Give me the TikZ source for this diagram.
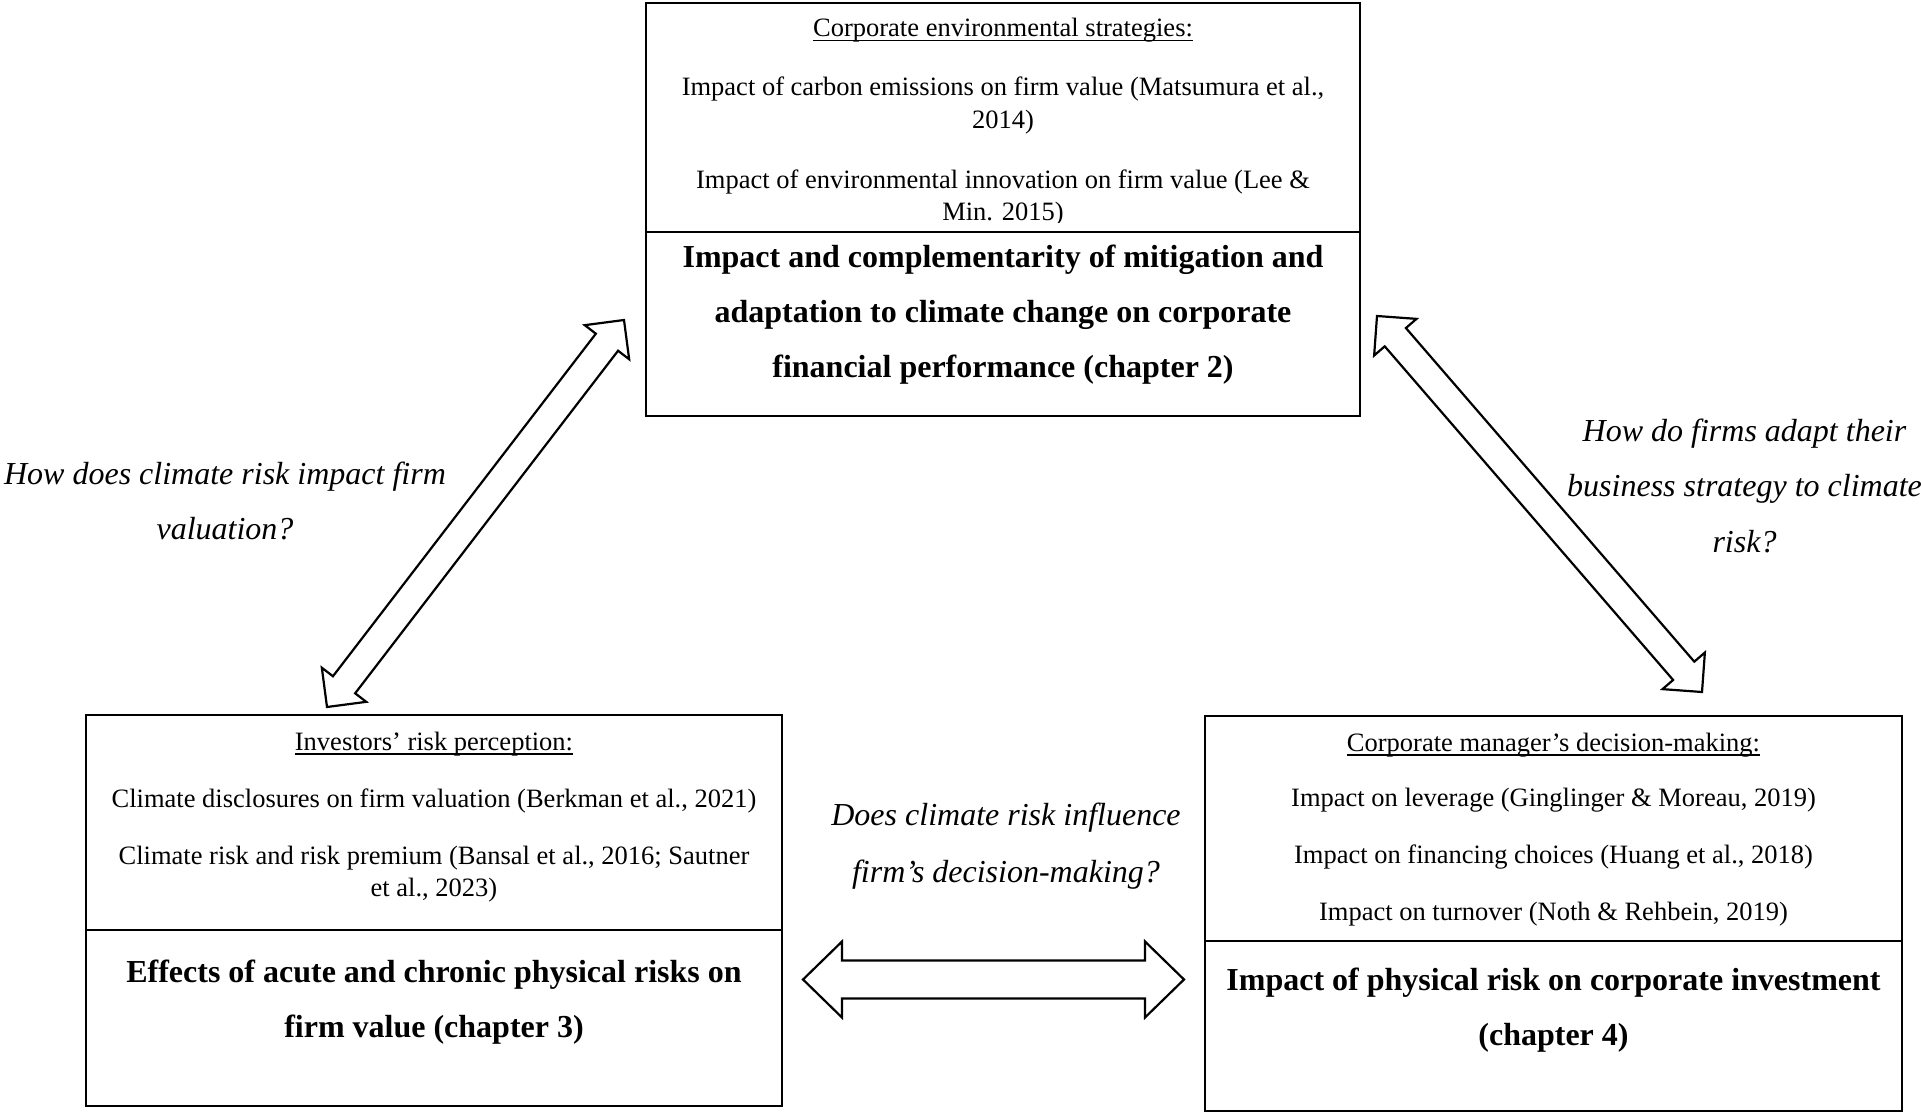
\documentclass[tikz,border=0pt]{standalone}
\usepackage{fontspec}
\setmainfont{Liberation Serif}
\usetikzlibrary{calc}
\newcommand\myul[1]{\setbox0\hbox{#1}\rlap{\rule[-4.5pt]{\wd0}{1.6pt}}\box0}
% #1 from, #2 to, #3 shaft half width, #4 head half width, #5 head length
\newcommand\blockarrow[5]{%
  \draw[blockarr] (#1)
   -- ($ ($(#1)!#5!(#2)$)!#4!90:(#2) $)
   -- ($ ($(#1)!#5!(#2)$)!#3!90:(#2) $)
   -- ($ ($(#2)!#5!(#1)$)!#3!90:(#2) $)
   -- ($ ($(#2)!#5!(#1)$)!#4!90:(#2) $)
   -- (#2)
   -- ($ ($(#2)!#5!(#1)$)!#4!-90:(#2) $)
   -- ($ ($(#2)!#5!(#1)$)!#3!-90:(#2) $)
   -- ($ ($(#1)!#5!(#2)$)!#3!-90:(#2) $)
   -- ($ ($(#1)!#5!(#2)$)!#4!-90:(#2) $)
   -- cycle;}
\begin{document}
\begin{tikzpicture}[x=1pt,y=-1pt,
  box/.style={draw, line width=2.5pt, rectangle, inner sep=0pt},
  blockarr/.style={draw, line width=2.2pt, fill=white, line join=miter},
  body/.style={anchor=base, align=center, inner sep=0pt, font=\fontsize{26.5}{32.5}\selectfont},
  boldtxt/.style={anchor=base, align=center, inner sep=0pt, font=\fontsize{32}{55}\selectfont\bfseries},
  quest/.style={anchor=base, align=center, inner sep=0pt, font=\fontsize{32}{55}\selectfont\itshape}]
\useasboundingbox (0,0) rectangle (1921,1113);

% boxes
\node[box, minimum width=714pt, minimum height=229pt] (envbox) at (1003,117.5) {};
\node[box, minimum width=714pt, minimum height=184pt] (ch2box) at (1003,324) {};
\node[box, minimum width=696pt, minimum height=215pt] (invbox) at (434,822.5) {};
\node[box, minimum width=696pt, minimum height=176pt] (ch3box) at (434,1018) {};
\node[box, minimum width=697pt, minimum height=225pt] (mgrbox) at (1553.5,828.5) {};
\node[box, minimum width=697pt, minimum height=170pt] (ch4box) at (1553.5,1026) {};

% top box texts (anchor = baseline of the last line)
\node[body] (envhead) at (1003,37) {\myul{Corporate environmental strategies:}};
\node[body] (env1) at (1003,128.5) {Impact of carbon emissions on firm value (Matsumura et al.,\\2014)};
\begin{scope}
\clip (646,3) rectangle (1360,222.5);
\node[body] (env2) at (1003,220.5) {Impact of environmental innovation on firm value (Lee \&\\Min. 2015)};
\end{scope}
\node[boldtxt] (ch2) at (1003,377) {Impact and complementarity of mitigation and\\adaptation to climate change on corporate\\financial performance (chapter 2)};

% left box texts
\node[body] (invhead) at (434,750) {\myul{Investors’ risk perception:}};
\node[body] (inv1) at (434,807) {Climate disclosures on firm valuation (Berkman et al., 2021)};
\node[body] (inv2) at (434,896.5) {Climate risk and risk premium (Bansal et al., 2016; Sautner\\et al., 2023)};
\node[boldtxt] (ch3) at (434,1037.5) {Effects of acute and chronic physical risks on\\firm value (chapter 3)};

% right box texts
\node[body] (mgrhead) at (1553.5,751.5) {\myul{Corporate manager’s decision-making:}};
\node[body] (mgr1) at (1553.5,806.7) {Impact on leverage (Ginglinger \& Moreau, 2019)};
\node[body] (mgr2) at (1553.5,863.3) {Impact on financing choices (Huang et al., 2018)};
\node[body] (mgr3) at (1553.5,920) {Impact on turnover (Noth \& Rehbein, 2019)};
\node[boldtxt] (ch4) at (1553.5,1045.5) {Impact of physical risk on corporate investment\\(chapter 4)};

% questions
\node[quest] (qleft) at (225,539) {How does climate risk impact firm\\valuation?};
\node[quest, font=\fontsize{32}{55.5}\selectfont\itshape] (qright) at (1744.5,552) {How do firms adapt their\\business strategy to climate\\risk?};
\node[quest, font=\fontsize{32}{57}\selectfont\itshape] (qmid) at (1006,882) {Does climate risk influence\\firm’s decision-making?};

% arrows
\coordinate (la) at (624,320);
\coordinate (lb) at (327,707);
\coordinate (ra) at (1377,316);
\coordinate (rb) at (1702,692);
\coordinate (ha) at (803,979.5);
\coordinate (hb) at (1184,979.5);
\blockarrow{la}{lb}{14pt}{28pt}{28pt}
\blockarrow{ra}{rb}{14pt}{28pt}{28pt}
\blockarrow{ha}{hb}{19pt}{38pt}{39pt}
\end{tikzpicture}
\end{document}
